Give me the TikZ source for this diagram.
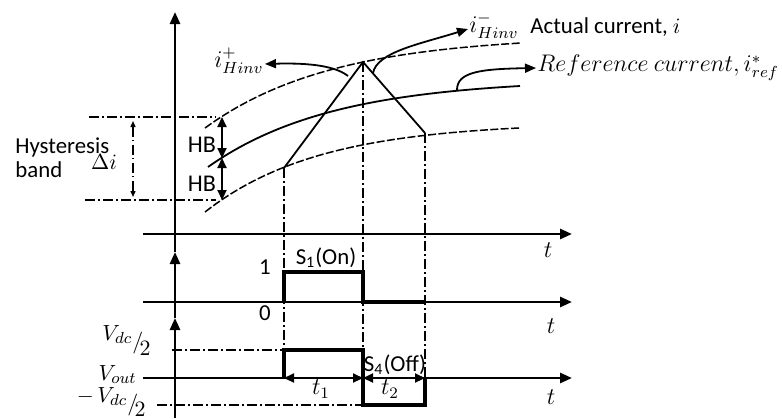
\documentclass[tikz,border=0pt]{standalone}
\usepackage{fontspec}
\setmainfont{Carlito}
\usetikzlibrary{arrows.meta}
\begin{document}
\begin{tikzpicture}[x=0.5pt,y=-0.5pt,
  lbl/.style={font=\fontsize{11.4}{13.6}\selectfont, inner sep=0.5pt},
  mlbl/.style={font=\fontsize{12}{14}\selectfont, inner sep=0.5pt},
  axis/.style={line width=1.3pt},
  thinln/.style={line width=0.9pt},
  pulse/.style={line width=1.6pt},
  bound/.style={line width=0.75pt, dash pattern=on 4pt off 1.2pt},
  dashdot/.style={line width=0.7pt, dash pattern=on 5pt off 1.6pt on 0.8pt off 1.6pt},
  axtip/.style={-{Triangle[length=6pt,width=5pt]}},
  lbtip/.style={-{Triangle[length=5.5pt,width=4.5pt]}},
  dbtip/.style={{Triangle[length=5pt,width=4.5pt]}-{Triangle[length=5pt,width=4.5pt]}},
  smtip/.style={{Triangle[length=3pt,width=2.5pt]}-{Triangle[length=3pt,width=2.5pt]}},
]
\useasboundingbox (0,0) rectangle (782,418);

% vertical axis
\coordinate (vb) at (175,418);
\coordinate (v3) at (175,318);
\coordinate (v2) at (175,252);
\coordinate (v1) at (175,12);
\draw[axis,axtip] (vb) -- (v3);
\draw[axis,axtip] (v3) -- (v2);
\draw[axis,axtip] (v2) -- (v1);

% horizontal axes
\coordinate (h1a) at (143,234); \coordinate (h1b) at (572,234);
\coordinate (h2a) at (143,302); \coordinate (h2b) at (572,302);
\coordinate (h3a) at (143,378); \coordinate (h3b) at (572,378);
\draw[axis,axtip] (h1a) -- (h1b);
\draw[axis,axtip] (h2a) -- (h2b);
\draw[axis,axtip] (h3a) -- (h3b);
\node[mlbl] (t1lab) at (548,250) {$t$};
\node[mlbl] (t2lab) at (551,326) {$t$};
\node[mlbl] (t3lab) at (551,397) {$t$};

% current band curves
\draw[bound] plot[domain=205:520,samples=60] ({\x},{35.3+92.7*exp(-0.00788*(\x-205))});
\draw[thinln] plot[domain=208:520,samples=60] ({\x},{78.8+88.2*exp(-0.00803*(\x-208))});
\draw[bound] plot[domain=205:520,samples=60] ({\x},{122.2+89.8*exp(-0.00873*(\x-205))});

% triangle (actual current)
\coordinate (ta) at (284,168);
\coordinate (tp) at (363,62);
\coordinate (tc) at (425,133);
\draw[thinln] (ta) -- (tp) -- (tc);

% vertical dash-dot guides
\coordinate (ga) at (284,378);
\coordinate (gp) at (363,378);
\coordinate (gc) at (425,378);
\draw[dashdot] (ta) -- (ga);
\draw[dashdot] (tp) -- (gp);
\draw[dashdot] (tc) -- (gc);

% hysteresis band
\coordinate (hbt1) at (89,117); \coordinate (hbt2) at (216,117);
\coordinate (hbb1) at (85,200); \coordinate (hbb2) at (216,200);
\draw[dashdot,line width=0.9pt] (hbt1) -- (hbt2);
\draw[dashdot,line width=0.9pt] (hbb1) -- (hbb2);
\coordinate (di1) at (133,121); \coordinate (di2) at (133,197);
\draw[dashdot,smtip] (di1) -- (di2);
\node[lbl] (dil) at (104,162) {$\Delta i$};
\node[lbl,anchor=west] (hyst) at (14,147) {Hysteresis};
\node[lbl,anchor=west] (band) at (14,170) {band};

\coordinate (hb1) at (222,117);
\coordinate (hb2) at (222,158);
\coordinate (hb3) at (222,200);
\draw[thinln,line width=1.1pt,dbtip] (hb1) -- (hb2);
\draw[thinln,line width=1.1pt,dbtip] (hb2) -- (hb3);
\node[mlbl] (hbl1) at (202,145) {HB};
\node[mlbl] (hbl2) at (202,184) {HB};

% labels with arrows
\node[mlbl,anchor=east] (iplus) at (265,61) {$i_{Hinv}^{+}$};
\draw[thinln,lbtip] (348,76) .. controls (333,64) and (300,63) .. ([yshift=-1.5pt]iplus.east);
\node[mlbl,anchor=west] (iminus) at (468,26) {$i_{Hinv}^{-}$};
\draw[thinln,lbtip] (373,73) .. controls (377,52) and (420,44) .. ([yshift=-1.5pt]iminus.west);
\node[lbl,anchor=west] (actual) at (529,27) {Actual current, $i$};
\node[mlbl,anchor=west] (refl) at (536,68) {$Reference\ current, i_{ref}^{*}$};
\draw[thinln,lbtip] (457,90) .. controls (457,72) and (480,69) .. (refl.west);

% switching signal
\coordinate (p0) at (284,302);
\coordinate (p1) at (284,272);
\coordinate (p2) at (363,272);
\coordinate (p3) at (363,302);
\coordinate (p4) at (425,302);
\draw[pulse] (p0) -- (p1) -- (p2) -- (p3) -- (p4);
\node[lbl] (one) at (265,267) {1};
\node[lbl] (zero) at (265,313) {0};
\node[lbl] (s1) at (326,258) {S\textsubscript{1}(On)};

% output voltage
\coordinate (q0) at (284,378);
\coordinate (q1) at (284,350);
\coordinate (q2) at (363,350);
\coordinate (q3) at (363,405);
\coordinate (q4) at (425,405);
\coordinate (q5) at (425,378);
\draw[pulse] (q0) -- (q1) -- (q2) -- (q3) -- (q4) -- (q5);
\coordinate (vdl) at (172,350);
\coordinate (mvdl) at (157,405);
\draw[dashdot] (vdl) -- (q1);
\draw[dashdot] (mvdl) -- (q3);
\node[lbl,anchor=base east] (vdc) at (152,340) {$V_{dc}\raisebox{-4pt}{$\big/$}\!\raisebox{-7.5pt}{$2$}$};
\node[lbl,anchor=base east] (vout) at (138,380) {$V_{out}$};
\node[lbl,anchor=base east] (mvdc) at (147,402) {$-\,V_{dc}\raisebox{-4pt}{$\big/$}\!\raisebox{-7pt}{$2$}$};
\draw[thinln,line width=1.1pt,dbtip] (q0) -- (gp);
\draw[thinln,line width=1.1pt,dbtip] (gp) -- (q5);
\node[mlbl] (t1) at (321,389) {$t_1$};
\node[mlbl] (t2) at (390,389) {$t_2$};
\node[lbl] (s4) at (395,365) {S\textsubscript{4}(Off)};
\end{tikzpicture}
\end{document}
